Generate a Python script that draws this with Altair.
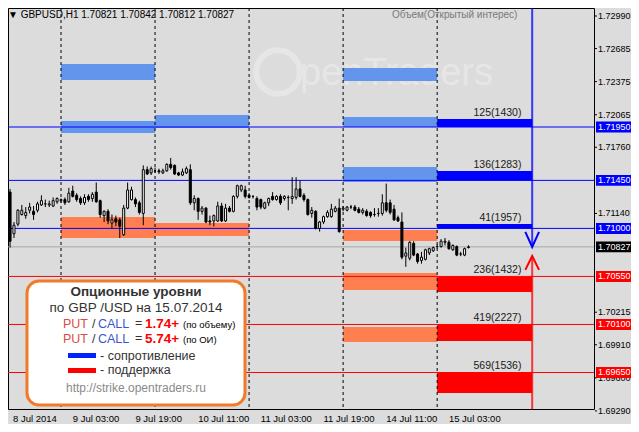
import altair as alt
import pandas as pd

# ------------------------------------------------------------------ data
# H1 bars, index 0 = 9 Jul 2014 00:00 (weekend skipped)
bar_idx = list(range(-13, 105))
opens = [1.7134, 1.7095, 1.7104, 1.7113, 1.7112, 1.7117, 1.7116, 1.7117, 1.7122, 1.7123, 1.7122, 1.7121, 1.7125,
         1.7126, 1.7127, 1.7125, 1.7135, 1.7131, 1.7128, 1.7124, 1.7130, 1.7128, 1.7134, 1.7126, 1.7112, 1.7116,
         1.7105, 1.7109, 1.7108, 1.7094, 1.7119, 1.7127, 1.7127, 1.7124, 1.7114, 1.7155, 1.7152, 1.7154, 1.7154,
         1.7152, 1.7154, 1.7160, 1.7159, 1.7152, 1.7150, 1.7152, 1.7155, 1.7124, 1.7128, 1.7116, 1.7119, 1.7107,
         1.7107, 1.7107, 1.7121, 1.7107, 1.7119, 1.7116, 1.7130, 1.7136, 1.7136, 1.7131, 1.7130, 1.7128, 1.7127,
         1.7119, 1.7124, 1.7130, 1.7127, 1.7130, 1.7128, 1.7129, 1.7128, 1.7129, 1.7137, 1.7131, 1.7127, 1.7114,
         1.7116, 1.7100, 1.7106, 1.7111, 1.7111, 1.7116, 1.7119, 1.7118, 1.7117, 1.7120, 1.7120, 1.7118, 1.7115,
         1.7116, 1.7115, 1.7113, 1.7114, 1.7114, 1.7124, 1.7124, 1.7118, 1.7110, 1.7106, 1.7074, 1.7072, 1.7086,
         1.7076, 1.7070, 1.7071, 1.7077, 1.7079, 1.7083, 1.7083, 1.7087, 1.7087, 1.7080, 1.7083, 1.7076, 1.7075,
         1.70821]
highs = [1.7137, 1.7106, 1.7118, 1.7122, 1.7120, 1.7124, 1.7121, 1.7125, 1.7131, 1.7127, 1.7126, 1.7129, 1.7129,
         1.7128, 1.7129, 1.7138, 1.7140, 1.7133, 1.7130, 1.7132, 1.7132, 1.7134, 1.7143, 1.7127, 1.7117, 1.7118,
         1.7113, 1.7112, 1.7110, 1.7122, 1.7143, 1.7139, 1.7129, 1.7126, 1.7159, 1.7158, 1.7158, 1.7157, 1.7156,
         1.7156, 1.7161, 1.7166, 1.7160, 1.7153, 1.7156, 1.7158, 1.7160, 1.7131, 1.7129, 1.7121, 1.7120, 1.7112,
         1.7113, 1.7125, 1.7124, 1.7123, 1.7121, 1.7131, 1.7141, 1.7141, 1.7140, 1.7133, 1.7131, 1.7130, 1.7128,
         1.7125, 1.7129, 1.7134, 1.7131, 1.7132, 1.7131, 1.7131, 1.7148, 1.7148, 1.7145, 1.7133, 1.7128, 1.7120,
         1.7117, 1.7107, 1.7112, 1.7117, 1.7123, 1.7121, 1.7128, 1.7121, 1.7121, 1.7122, 1.7122, 1.7120, 1.7119,
         1.7118, 1.7116, 1.7119, 1.7119, 1.7132, 1.7142, 1.7127, 1.7122, 1.7112, 1.7115, 1.7082, 1.7088, 1.7088,
         1.7077, 1.7078, 1.7081, 1.7082, 1.7083, 1.7085, 1.7090, 1.7091, 1.7089, 1.7085, 1.7084, 1.7078, 1.7082,
         1.70842]
lows = [1.7082, 1.7091, 1.7102, 1.7112, 1.7109, 1.7114, 1.7108, 1.7115, 1.7121, 1.7120, 1.7120, 1.7120, 1.7123,
        1.7124, 1.7122, 1.7124, 1.7129, 1.7125, 1.7122, 1.7122, 1.7125, 1.7125, 1.7124, 1.7110, 1.7106, 1.7104,
        1.7100, 1.7102, 1.7091, 1.7093, 1.7118, 1.7126, 1.7120, 1.7113, 1.7103, 1.7150, 1.7150, 1.7152, 1.7151,
        1.7151, 1.7153, 1.7155, 1.7150, 1.7149, 1.7149, 1.7151, 1.7122, 1.7117, 1.7108, 1.7113, 1.7105, 1.7103,
        1.7102, 1.7106, 1.7106, 1.7106, 1.7115, 1.7115, 1.7128, 1.7134, 1.7128, 1.7128, 1.7128, 1.7117, 1.7118,
        1.7118, 1.7121, 1.7126, 1.7126, 1.7122, 1.7126, 1.7117, 1.7123, 1.7127, 1.7129, 1.7125, 1.7112, 1.7110,
        1.7099, 1.7097, 1.7104, 1.7110, 1.7110, 1.7115, 1.7096, 1.7116, 1.7116, 1.7118, 1.7116, 1.7114, 1.7113,
        1.7111, 1.7110, 1.7111, 1.7111, 1.7112, 1.7115, 1.7113, 1.7107, 1.7106, 1.7071, 1.7064, 1.7070, 1.7074,
        1.7067, 1.7067, 1.7070, 1.7075, 1.7078, 1.7081, 1.7082, 1.7084, 1.7080, 1.7079, 1.7074, 1.7074, 1.7074,
        1.70812]
closes = [1.7088, 1.7103, 1.7117, 1.7117, 1.7115, 1.7120, 1.7113, 1.7123, 1.7126, 1.7123, 1.7123, 1.7126, 1.7128,
          1.7127, 1.7124, 1.7133, 1.7130, 1.7127, 1.7124, 1.7129, 1.7127, 1.7132, 1.7125, 1.7113, 1.7116, 1.7107,
          1.7108, 1.7106, 1.7102, 1.7119, 1.7136, 1.7136, 1.7123, 1.7115, 1.7155, 1.7151, 1.7156, 1.7154, 1.7153,
          1.7154, 1.7160, 1.7157, 1.7151, 1.7150, 1.7153, 1.7156, 1.7124, 1.7128, 1.7116, 1.7119, 1.7106, 1.7106,
          1.7112, 1.7121, 1.7107, 1.7119, 1.7116, 1.7130, 1.7140, 1.7140, 1.7130, 1.7129, 1.7130, 1.7120, 1.7120,
          1.7124, 1.7128, 1.7127, 1.7130, 1.7124, 1.7130, 1.7129, 1.7130, 1.7137, 1.7130, 1.7127, 1.7113, 1.7117,
          1.7100, 1.7106, 1.7111, 1.7115, 1.7118, 1.7119, 1.7097, 1.7119, 1.7120, 1.7120, 1.7117, 1.7115, 1.7117,
          1.7112, 1.7112, 1.7113, 1.7114, 1.7124, 1.7117, 1.7115, 1.7108, 1.7107, 1.7073, 1.7077, 1.7087, 1.7075,
          1.7069, 1.7073, 1.7080, 1.7081, 1.7082, 1.7083, 1.7088, 1.7088, 1.7081, 1.7084, 1.7075, 1.7076, 1.7081,
          1.70827]

# option zones: day start/end (bar index), price range, kind
zone_start = [0, 0, 0, 24, 24, 72, 72, 72, 72, 72, 72, 96, 96, 96, 96, 96, 96]
zone_end = [24, 24, 24, 48, 48, 96, 96, 96, 96, 96, 96, 120.25, 120.25, 120.25, 120.25, 120.25, 120.25]
zone_low = [1.72390, 1.71894, 1.70910, 1.71941, 1.70929, 1.72381, 1.71950, 1.71435, 1.70882, 1.70423, 1.69936,
            1.71950, 1.71450, 1.71000, 1.70405, 1.69946, 1.69458]
zone_high = [1.72540, 1.72006, 1.71107, 1.72063, 1.71051, 1.72503, 1.72044, 1.71575, 1.70985, 1.70583, 1.70077,
             1.72025, 1.71538, 1.71042, 1.70550, 1.70100, 1.69650]
zone_kind = ["res_old", "res_old", "sup_old", "res_old", "sup_old", "res_old", "res_old", "res_old",
             "sup_old", "sup_old", "sup_old", "res", "res", "res", "sup", "sup", "sup"]

level_prices = [1.71950, 1.71450, 1.71000, 1.70827, 1.70550, 1.70100, 1.69650]
level_kind = ["res", "res", "res", "price", "sup", "sup", "sup"]

option_labels = ["125(1430)", "136(1283)", "41(1957)", "236(1432)", "419(2227)", "569(1536)"]
option_label_price = [1.72025, 1.71538, 1.71042, 1.70550, 1.70100, 1.69650]
option_label_bar = 117.5

separator_idx = [0, 24, 48, 72, 96]
time_label_idx = [-13, 3, 19, 35, 51, 67, 83, 99]
time_labels = ["8 Jul 2014", "9 Jul 03:00", "9 Jul 19:00", "10 Jul 11:00", "11 Jul 03:00",
               "11 Jul 19:00", "14 Jul 11:00", "15 Jul 03:00"]
price_ticks = [1.72990, 1.72685, 1.72375, 1.72065, 1.71760, 1.71140, 1.70215, 1.69910, 1.69600, 1.69290]

# direction arrows at the right end of today's levels
arrow_bar = 120.25
arrow_from = [1.7310, 1.70723]
arrow_to = [1.70845, 1.6920]
arrow_kind = ["res", "sup"]
chevron_group = ["res", "res", "res", "sup", "sup", "sup"]
chevron_bar = [118.5, 120.25, 122.0, 118.5, 120.25, 122.0]
chevron_price = [1.70967, 1.70826, 1.70967, 1.70611, 1.70742, 1.70611]

put_call_volume = "1.74+"
put_call_oi = "5.74+"

# ------------------------------------------------------------------ styling
FONT = "Liberation Sans"
BG = "#DCDCDC"
COLORS = {"res_old": "#6495ED", "sup_old": "#FF7F50", "res": "#0000FF", "sup": "#FF0000",
          "price": "#A8A8A8"}
BOX_COLORS = {"res": "#0000FF", "sup": "#FF0000", "price": "#000000"}
W, H = 586, 401
X_MIN, X_MAX = -12.25, 134.75

xs = alt.Scale(domain=[X_MIN, X_MAX], nice=False, zero=False)
ys = alt.Scale(domain=[1.69308, 1.73065], nice=False, zero=False)


def X(f):
    return alt.X(f, type="quantitative", scale=xs, axis=None)


def Y(f):
    return alt.Y(f, type="quantitative", scale=ys, axis=None)


one = pd.DataFrame({"a": [0]})


def txt(text, x, y, size=9.5, color="black", weight="normal", align="left", font=FONT, opacity=1):
    return alt.Chart(one).mark_text(text=text, font=font, fontSize=size, color=color, fontWeight=weight,
                                    align=align, baseline="middle", opacity=opacity, clip=False).encode(
        x=alt.value(x), y=alt.value(y))


candles = pd.DataFrame({"i": bar_idx, "open": opens, "high": highs, "low": lows, "close": closes})
candles["dir"] = ["up" if c >= o else "down" for o, c in zip(opens, closes)]

zones = pd.DataFrame({"s": zone_start, "e": zone_end, "lo": zone_low, "hi": zone_high,
                      "col": [COLORS[k] for k in zone_kind]})
levels = pd.DataFrame({"p": level_prices, "col": [COLORS[k] for k in level_kind],
                       "box": [BOX_COLORS[k] for k in level_kind]})
opt = pd.DataFrame({"t": option_labels, "p": option_label_price})
seps = pd.DataFrame({"i": separator_idx})
tl = pd.DataFrame({"i": [max(i, X_MIN) for i in time_label_idx], "t": time_labels})
ticks = pd.DataFrame({"p": price_ticks})
arrows = pd.DataFrame({"i": [arrow_bar, arrow_bar], "a": arrow_from, "b": arrow_to,
                       "col": [COLORS[k] for k in arrow_kind]})
chev = pd.DataFrame({"g": chevron_group, "i": chevron_bar, "p": chevron_price,
                     "k": list(range(len(chevron_bar))), "col": [COLORS[k] for k in chevron_group]})

watermark = alt.layer(
    alt.Chart(one).mark_point(shape="circle", size=1900, filled=False, stroke="white", strokeWidth=6,
                              opacity=0.3).encode(x=alt.value(270), y=alt.value(64)),
    txt("penTraders", 292, 66, size=38, color="white", opacity=0.3),
)

zone_layer = alt.Chart(zones).mark_rect(clip=True).encode(
    x=X("s"), x2="e:Q", y=Y("lo"), y2="hi:Q", color=alt.Color("col:N", scale=None))

level_layer = alt.Chart(levels).mark_rule(strokeWidth=1, clip=True).encode(
    y=Y("p"), color=alt.Color("col:N", scale=None))

sep_layer = alt.Chart(seps).mark_rule(strokeDash=[3, 3], color="black", strokeWidth=1, clip=True).encode(
    x=X("i"))

arrow_layer = alt.Chart(arrows).mark_rule(strokeWidth=2, opacity=0.75, clip=True).encode(
    x=X("i"), y=Y("a"), y2="b:Q", color=alt.Color("col:N", scale=None))

chev_layer = alt.Chart(chev).mark_line(strokeWidth=2, clip=True).encode(
    x=X("i"), y=Y("p"), detail="g:N", order="k:Q", color=alt.Color("col:N", scale=None))

wick_layer = alt.Chart(candles).mark_rule(color="black", strokeWidth=1, clip=True).encode(
    x=X("i"), y=Y("low"), y2="high:Q")

body_layer = alt.Chart(candles).mark_bar(size=2, stroke="black", strokeWidth=1, clip=True).encode(
    x=X("i"), y=Y("open"), y2="close:Q",
    fill=alt.Fill("dir:N", scale=alt.Scale(domain=["up", "down"], range=["white", "black"]), legend=None))

opt_layer = alt.Chart(opt).mark_text(align="right", baseline="bottom", dy=-1, font=FONT, fontSize=10.5,
                                     color="#202020").encode(
    x=alt.X(datum=option_label_bar, type="quantitative", scale=xs, axis=None), y=Y("p"), text="t:N")

# right price scale (ticks + labels)
tick_marks = alt.Chart(ticks).mark_rule(color="black", strokeWidth=1, clip=False).encode(
    x=alt.value(W + 1), x2=alt.value(W + 3), y=Y("p"))
tick_labels = alt.Chart(ticks).mark_text(align="left", baseline="middle", font=FONT, fontSize=9,
                                         color="black", clip=False).encode(
    x=alt.value(W + 4), y=Y("p"), text=alt.Text("p:Q", format=".5f"))

box_layer = alt.Chart(levels).mark_point(
    shape="M-1,-0.314L1,-0.314L1,0.314L-1,0.314Z", size=1225, filled=True, opacity=1, strokeWidth=0,
    clip=False).encode(x=alt.value(W + 19.5), y=Y("p"), color=alt.Color("box:N", scale=None))

box_text = alt.Chart(levels).mark_text(align="left", baseline="middle", font=FONT, fontSize=9,
                                       color="white", clip=False).encode(
    x=alt.value(W + 4), y=Y("p"), text=alt.Text("p:Q", format=".5f"))

time_layer = alt.Chart(tl).mark_text(align="left", baseline="middle", font=FONT, fontSize=9.5,
                                     color="black", clip=False).encode(
    x=X("i"), y=alt.value(H + 10), text="t:N")

title_text = "\u25bc GBPUSD,H1  {:.5f} {:.5f} {:.5f} {:.5f}".format(opens[-1], highs[-1], lows[-1], closes[-1])
header = alt.layer(
    txt(title_text, 0, 6.5, size=10),
    txt("Объем(Открытый интерес)", 384, 6.5, color="#7A7A7A", size=10),
)

# info box
legend_box = alt.Chart(one).mark_rect(fill="white", stroke="#F07A28", strokeWidth=3, cornerRadius=12,
                                      clip=False).encode(
    x=alt.value(19), x2=alt.value(237), y=alt.value(273), y2=alt.value(397))
blue_sw = alt.Chart(one).mark_rect(fill="#0022FF").encode(
    x=alt.value(60), x2=alt.value(88), y=alt.value(345), y2=alt.value(350))
red_sw = alt.Chart(one).mark_rect(fill="#FF0000").encode(
    x=alt.value(60), x2=alt.value(88), y=alt.value(360), y2=alt.value(365))

info = alt.layer(
    legend_box,
    txt("Опционные уровни", 128, 284, size=13.5, color="#333333", weight="bold", align="center"),
    txt("по GBP /USD на 15.07.2014", 128, 300, size=13.5, color="#333333", align="center"),
    txt("PUT", 55, 316, size=12.5, color="#E04848"),
    txt("/", 84, 316, size=12.5, color="#333333"),
    txt("CALL", 90, 316, size=12.5, color="#3A55D0"),
    txt("=", 127, 315, size=12.5, color="#333333"),
    txt(put_call_volume, 137, 316, size=13.5, color="#FF0000", weight="bold"),
    txt("(по объему)", 175, 317, size=9.5, color="black"),
    txt("PUT", 55, 331, size=12.5, color="#E04848"),
    txt("/", 84, 331, size=12.5, color="#333333"),
    txt("CALL", 90, 331, size=12.5, color="#3A55D0"),
    txt("=", 127, 330, size=12.5, color="#333333"),
    txt(put_call_oi, 137, 331, size=13.5, color="#FF0000", weight="bold"),
    txt("(по ОИ)", 175, 332, size=9.5, color="black"),
    blue_sw, red_sw,
    txt("- сопротивление", 92, 348, size=12.5, color="#333333"),
    txt("- поддержка", 92, 362, size=12.5, color="#333333"),
    txt("http://strike.opentraders.ru", 128, 380, size=12, color="#8A8A8A", align="center"),
)

chart = alt.layer(
    watermark, zone_layer, level_layer, sep_layer, arrow_layer, chev_layer,
    wick_layer, body_layer, opt_layer, tick_marks, tick_labels, box_layer, box_text,
    time_layer, header, info,
).properties(
    width=W, height=H,
    autosize=alt.AutoSizeParams(type="none"),
    padding={"left": 0, "top": 0, "right": 37, "bottom": 15},
    background=BG,
).configure_view(stroke="black", strokeWidth=1, fill=BG)

chart.save("out.html", embed_options={"renderer": "svg", "actions": False})
